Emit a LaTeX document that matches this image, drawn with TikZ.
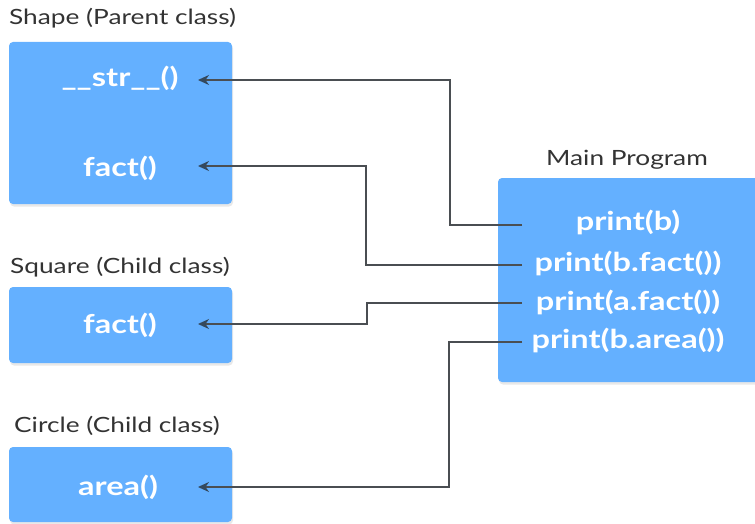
\documentclass[tikz,border=0pt]{standalone}
\usepackage{fontspec}
\setmainfont{Lato}
\newfontfamily\headfont{Lato}[FakeStretch=1.25]
\newfontfamily\methfont{Lato Bold}[FakeStretch=1.25]
\usetikzlibrary{shadows,arrows.meta}
\definecolor{boxblue}{HTML}{64B0FF}
\definecolor{linegray}{HTML}{4A4E52}
\definecolor{tipcol}{HTML}{34495E}
\definecolor{labelcol}{HTML}{333333}
\tikzset{
  classbox/.style={fill=boxblue, draw=none, rounded corners=4pt,
    drop shadow={opacity=0.18, shadow xshift=1pt, shadow yshift=-2.5pt}},
  method/.style={text=white, font=\methfont\fontsize{26}{30}\selectfont, inner sep=0pt},
  heading/.style={text=labelcol, font=\headfont\fontsize{21}{24}\selectfont, inner sep=0pt},
  conn/.style={draw=linegray, line width=2.4pt, -{Stealth[length=11pt,width=10pt,color=tipcol]}}
}
\begin{document}
\begin{tikzpicture}[x=1pt,y=-1pt]
\useasboundingbox (0,0) rectangle (755,524);
% boxes
\path[classbox] (9,42) rectangle (232,204);
\path[classbox] (9,287) rectangle (232,363);
\path[classbox] (9,447) rectangle (232,522);
\path[classbox] (498,178) rectangle (762,382);
% headings
\node[heading, anchor=west] (hshape) at (9,18) {Shape (Parent class)};
\node[heading, anchor=west] (hsquare) at (10,267) {Square (Child class)};
\node[heading, anchor=west] (hcircle) at (14,426) {Circle (Child class)};
\node[heading] (hmain) at (627,160) {Main Program};
% methods
\node[method] (str) at (120,78) {\_\_str\_\_()};
\node[method] (sfact) at (120,168) {fact()};
\node[method] (qfact) at (120,325) {fact()};
\node[method] (carea) at (118,487) {area()};
\node[method] (pb) at (628,222) {print(b)};
\node[method] (pbf) at (628,263) {print(b.fact())};
\node[method] (paf) at (628,302) {print(a.fact())};
\node[method] (pba) at (628,340) {print(b.area())};
% connector ends
\coordinate (s1) at (522,225);
\coordinate (s2) at (522,265);
\coordinate (s3) at (522,303);
\coordinate (s4) at (522,342);
\coordinate (t1) at (198,80);
\coordinate (t2) at (198,166);
\coordinate (t3) at (198,324);
\coordinate (t4) at (198,487);
% connectors
\draw[conn] (s1) -- (450,225) |- (t1);
\draw[conn] (s2) -- (366,265) |- (t2);
\draw[conn] (s3) -- (367,303) |- (t3);
\draw[conn] (s4) -- (449,342) |- (t4);
\end{tikzpicture}
\end{document}
